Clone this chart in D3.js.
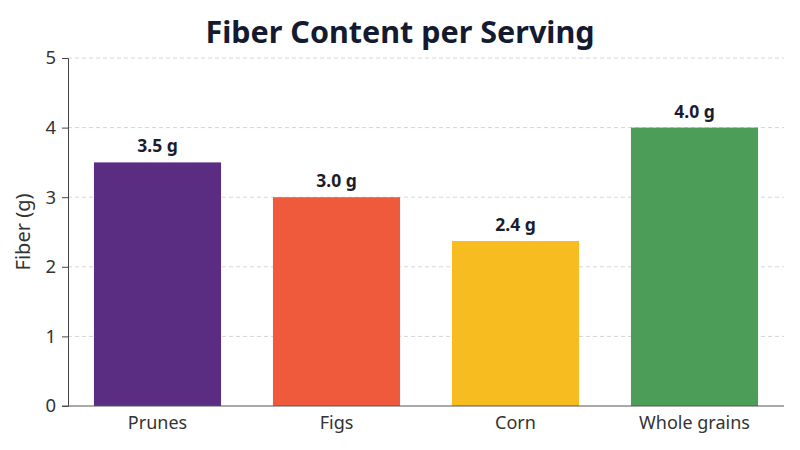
<!DOCTYPE html>
<html><head><meta charset="utf-8">
<script src="https://cdn.jsdelivr.net/npm/d3@7"></script>
<style>body{margin:0;background:#fff}svg{display:block}</style>
</head><body>
<svg id="c" width="800" height="450"></svg>
<script>
const categories = ["Prunes", "Figs", "Corn", "Whole grains"];
const values = [3.5, 3.0, 2.37, 4.0];
const colors = ["#5b2d82", "#f05a3c", "#f7bc1f", "#4b9d57"];
const yTicks = [0, 1, 2, 3, 4, 5];
const title = "Fiber Content per Serving";
const yLabel = "Fiber (g)";

const font = "'Noto Sans', sans-serif";
const svg = d3.select("#c");
const m = {l: 68, r: 16, t: 58, b: 44};
const W = 800, H = 450;
const x = d3.scaleBand().domain(categories).range([m.l, W - m.r]).paddingInner(0.29).paddingOuter(0.145);
const y = d3.scaleLinear().domain([0, 5]).range([H - m.b, m.t]);

svg.append("g").selectAll("line").data(yTicks.filter(d => d > 0)).join("line")
  .attr("x1", m.l).attr("x2", W - m.r).attr("y1", d => y(d)).attr("y2", d => y(d))
  .attr("stroke", "#d4d4d4").attr("stroke-dasharray", "4,3").attr("stroke-width", 1);

svg.append("g").selectAll("rect").data(categories).join("rect")
  .attr("x", d => x(d)).attr("width", x.bandwidth())
  .attr("y", (d, i) => y(values[i])).attr("height", (d, i) => y(0) - y(values[i]))
  .attr("fill", (d, i) => colors[i]);

svg.append("g").selectAll("text").data(categories).join("text")
  .attr("x", d => x(d) + x.bandwidth() / 2).attr("y", (d, i) => y(values[i]) - 10)
  .attr("text-anchor", "middle").attr("font-family", font).attr("font-weight", 700)
  .attr("font-size", 17.5).attr("fill", "#1a1d2e")
  .text((d, i) => d3.format(".1f")(values[i]) + " g");

const ya = svg.append("g").attr("transform", `translate(${m.l},0)`)
  .call(d3.axisLeft(y).tickValues(yTicks).tickFormat(d3.format("d")).tickSize(6).tickPadding(6));
ya.select(".domain").attr("stroke", "#444");
ya.selectAll(".tick line").attr("stroke", "#444");
ya.selectAll("text").attr("font-family", font).attr("font-size", 18.5).attr("fill", "#333");

const xa = svg.append("g").attr("transform", `translate(0,${y(0)})`)
  .call(d3.axisBottom(x).tickSize(0).tickPadding(10));
xa.select(".domain").attr("stroke", "#555").attr("d", `M${m.l - 6},0H${W - m.r}`);
xa.selectAll("text").attr("font-family", font).attr("font-size", 18).attr("fill", "#333");

svg.append("text").attr("x", 400).attr("y", 43).attr("text-anchor", "middle")
  .attr("font-family", font).attr("font-weight", 700).attr("font-size", 30.5).attr("fill", "#141a30")
  .text(title);

svg.append("text").attr("transform", `translate(30,${(m.t + H - m.b) / 2}) rotate(-90)`)
  .attr("text-anchor", "middle").attr("font-family", font).attr("font-size", 20).attr("fill", "#333")
  .text(yLabel);
</script>
</body></html>
